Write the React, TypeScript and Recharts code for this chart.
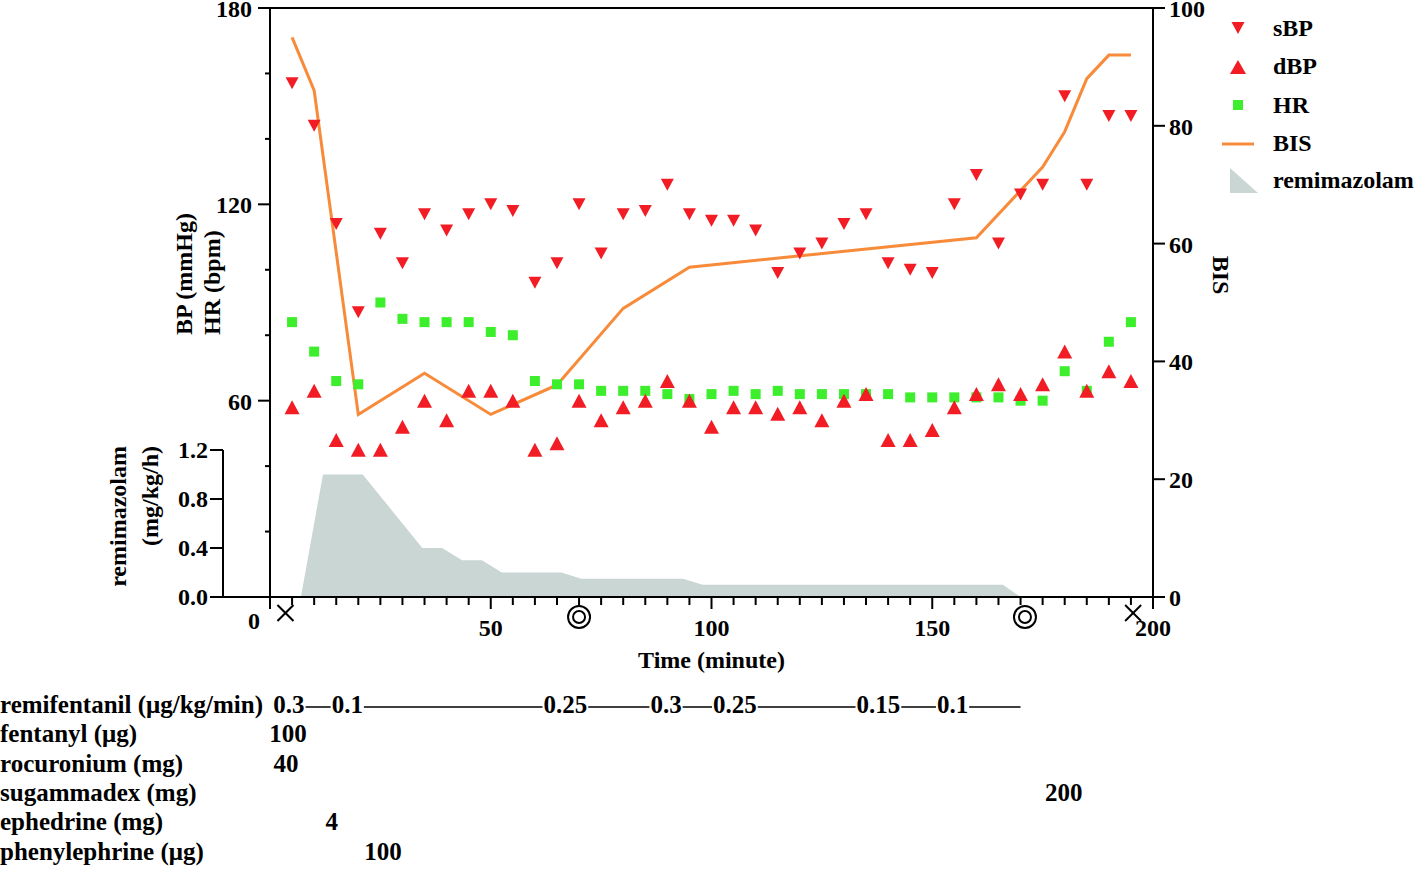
import { ComposedChart, Scatter, Line, Area, XAxis, YAxis, ReferenceLine, ReferenceDot } from "recharts";

const FONT = "'Liberation Serif', 'Times New Roman', serif";
const RED = "#F21C24";
const GREEN = "#3CEE2B";
const ORANGE = "#F78B3A";
const AREA = "#C9D6D3";
const INK = "#000";

const W = 1418;
const H = 869;
const PLOT_LEFT = 270;
const PLOT_RIGHT = 1153;
const PLOT_TOP = 8;
const PLOT_BOTTOM = 597;
const REMI_TOP = 450;
const REMI_AXIS_X = 223;
const TABLE_FONT = 25;

// vitals every 5 minutes
const sampleMinutes = [5, 10, 15, 20, 25, 30, 35, 40, 45, 50, 55, 60, 65, 70, 75, 80, 85, 90, 95, 100, 105, 110, 115, 120, 125, 130, 135, 140, 145, 150, 155, 160, 165, 170, 175, 180, 185, 190, 195];
const sbp = [157, 144, 114, 87, 111, 102, 117, 112, 117, 120, 118, 96, 102, 120, 105, 117, 118, 126, 117, 115, 115, 112, 99, 105, 108, 114, 117, 102, 100, 99, 120, 129, 108, 123, 126, 153, 126, 147, 147];
const dbp = [58, 63, 48, 45, 45, 52, 60, 54, 63, 63, 60, 45, 47, 60, 54, 58, 60, 66, 60, 52, 58, 58, 56, 58, 54, 60, 62, 48, 48, 51, 58, 62, 65, 62, 65, 75, 63, 69, 66];
const hr = [84, 75, 66, 65, 90, 85, 84, 84, 84, 81, 80, 66, 65, 65, 63, 63, 63, 62, 60.5, 62, 63, 62, 63, 62, 62, 62, 62, 62, 61, 61, 61, 61, 61, 60, 60, 69, 63, 78, 84];

const bisMinutes = [5, 10, 20, 35, 50, 65, 80, 95, 160, 175, 180, 185, 190, 195];
const bisValues = [95, 86, 31, 38, 31, 36, 49, 56, 61, 73, 79, 88, 92, 92];

const remiMinutes = [7, 12, 21, 34.5, 39, 43.5, 48, 52.5, 66, 70.5, 93.5, 98, 166, 170];
const remiRates = [0, 1.0, 1.0, 0.4, 0.4, 0.3, 0.3, 0.2, 0.2, 0.15, 0.15, 0.1, 0.1, 0];

// x = start/end of anaesthesia, o = intubation/extubation
const eventMinutes = [3.5, 70, 171, 195.5];
const eventKinds = ["x", "o", "o", "x"];

const minuteTicks = Array.from({ length: 41 }, (_, i) => i * 5);
const bpTicks = [20, 40, 60, 80, 100, 120, 140, 160, 180];
const bisTicks = [0, 20, 40, 60, 80, 100];
const remiTicks = [0, 0.4, 0.8, 1.2];

const drugNames = ["remifentanil (μg/kg/min)", "fentanyl (μg)", "rocuronium (mg)", "sugammadex (mg)", "ephedrine (mg)", "phenylephrine (μg)"];
const remifentanilMinutes = [4.3, 17.5, 66.9, 89.7, 105.3, 137.8, 154.6];
const remifentanilRates = ["0.3", "0.1", "0.25", "0.3", "0.25", "0.15", "0.1"];
const remifentanilStop = 170;
const bolusRow = [1, 2, 3, 4, 5];
const bolusMinutes = [4.1, 3.6, 179.8, 14, 25.6];
const bolusDoses = ["100", "40", "200", "4", "100"];

const zip = (ts: number[], vs: number[]) => ts.map((t, i) => ({ t, v: vs[i] }));
const sbpRows = zip(sampleMinutes, sbp);
const dbpRows = zip(sampleMinutes, dbp);
const hrRows = zip(sampleMinutes, hr);
const bisRows = zip(bisMinutes, bisValues);
const remiRows = zip(remiMinutes, remiRates);

const xOf = (t: number) => PLOT_LEFT + (t / 200) * (PLOT_RIGHT - PLOT_LEFT);
const txt = { fontFamily: FONT, fontWeight: "bold" as const, fontSize: 24, fill: INK };
const tableTxt = { ...txt, fontSize: TABLE_FONT };
const textWidth = (s: string) => s.split("").reduce((w, c) => w + (c === "." ? 0.25 : 0.5), 0) * TABLE_FONT;

function center(p: any) {
  const cx = p.cx ?? p.x + (p.width || 0) / 2;
  const cy = p.cy ?? p.y + (p.height || 0) / 2;
  return { cx, cy };
}

function DownTri(p: any) {
  const { cx, cy } = center(p);
  return <polygon points={`${cx - 6.5},${cy - 6} ${cx + 6.5},${cy - 6} ${cx},${cy + 6}`} fill={RED} />;
}

function UpTri(p: any) {
  const { cx, cy } = center(p);
  return <polygon points={`${cx - 7.5},${cy + 7} ${cx + 7.5},${cy + 7} ${cx},${cy - 7}`} fill={RED} />;
}

function Square(p: any) {
  const { cx, cy } = center(p);
  return <rect x={cx - 5} y={cy - 5} width={10} height={10} fill={GREEN} />;
}

function EventMark(kind: string) {
  return (p: any) => {
    const { cx, cy } = p;
    if (kind === "x") {
      const y = cy + 16;
      return (
        <g stroke={INK} strokeWidth={2}>
          <line x1={cx - 8} y1={y - 8} x2={cx + 8} y2={y + 8} />
          <line x1={cx - 8} y1={y + 8} x2={cx + 8} y2={y - 8} />
        </g>
      );
    }
    const y = cy + 20;
    return (
      <g stroke={INK} strokeWidth={2} fill="none">
        <circle cx={cx} cy={y} r={11} />
        <circle cx={cx} cy={y} r={6} />
      </g>
    );
  };
}

function MinuteTick(p: any) {
  const { x, y, payload } = p;
  const v = payload.value;
  const major = v % 50 === 0;
  return (
    <g>
      <line x1={x} x2={x} y1={y} y2={y + (major ? 12 : 8)} stroke={INK} strokeWidth={2} />
      {major && (
        <text x={v === 0 ? x - 16 : x} y={y + (v === 0 ? 32 : 39)} textAnchor="middle" {...txt}>
          {v}
        </text>
      )}
    </g>
  );
}

function BpTick(p: any) {
  const { x, y, payload } = p;
  const v = payload.value;
  const major = v % 60 === 0;
  return (
    <g>
      <line x1={x - (major ? 12 : 5)} x2={x} y1={y} y2={y} stroke={INK} strokeWidth={2} />
      {major && (
        <text x={x - 18} y={y + 9} textAnchor="end" {...txt}>
          {v}
        </text>
      )}
    </g>
  );
}

function BisTick(p: any) {
  const { x, y, payload } = p;
  return (
    <g>
      <line x1={x} x2={x + 12} y1={y} y2={y} stroke={INK} strokeWidth={2} />
      <text x={x + 16} y={y + 9} textAnchor="start" {...txt}>
        {payload.value}
      </text>
    </g>
  );
}

function RemiTick(p: any) {
  const { x, y, payload } = p;
  return (
    <g>
      <line x1={x - 13} x2={x} y1={y} y2={y} stroke={INK} strokeWidth={2} />
      <text x={x - 15} y={y + 8} textAnchor="end" {...txt}>
        {payload.value.toFixed(1)}
      </text>
    </g>
  );
}

function Overlay() {
  const rowY = (i: number) => 713 + i * 29.3;
  const segs = remifentanilMinutes.map((t, i) => {
    const x1 = xOf(t) + textWidth(remifentanilRates[i]) / 2 + 1;
    const x2 = i < remifentanilMinutes.length - 1
      ? xOf(remifentanilMinutes[i + 1]) - textWidth(remifentanilRates[i + 1]) / 2 - 1
      : xOf(remifentanilStop);
    return { x1, x2 };
  });
  return (
    <svg width={W} height={H} style={{ position: "absolute", left: 0, top: 0, pointerEvents: "none" }}>
      {/* axis titles */}
      <text transform="rotate(-90 184 335)" x={184} y={335} textAnchor="start" dominantBaseline="central" {...txt}>BP (mmHg)</text>
      <text transform="rotate(-90 212 335)" x={212} y={335} textAnchor="start" dominantBaseline="central" {...txt}>HR (bpm)</text>
      <text transform="rotate(-90 118 446)" x={118} y={446} textAnchor="end" dominantBaseline="central" {...txt}>remimazolam</text>
      <text transform="rotate(-90 150 446)" x={150} y={446} textAnchor="end" dominantBaseline="central" {...txt}>(mg/kg/h)</text>
      <text transform="rotate(90 1221 275)" x={1221} y={275} textAnchor="middle" dominantBaseline="central" {...txt}>BIS</text>
      <text x={(PLOT_LEFT + PLOT_RIGHT) / 2} y={668} textAnchor="middle" {...txt}>Time (minute)</text>

      {/* legend */}
      <polygon points="1231.5,22 1244.5,22 1238,34" fill={RED} />
      <text x={1273} y={36} {...txt}>sBP</text>
      <polygon points="1230,74 1246,74 1238,60" fill={RED} />
      <text x={1273} y={74} {...txt}>dBP</text>
      <rect x={1233} y={100} width={10} height={10} fill={GREEN} />
      <text x={1273} y={113} {...txt}>HR</text>
      <line x1={1222} x2={1254} y1={144} y2={144} stroke={ORANGE} strokeWidth={3} />
      <text x={1273} y={151} {...txt}>BIS</text>
      <polygon points="1230,168 1230,193 1258,193" fill={AREA} />
      <text x={1273} y={188} {...txt}>remimazolam</text>

      {/* drug table */}
      {drugNames.map((n, i) => (
        <text key={n} x={0} y={rowY(i)} {...tableTxt}>{n}</text>
      ))}
      {remifentanilMinutes.map((t, i) => (
        <text key={"r" + i} x={xOf(t)} y={rowY(0)} textAnchor="middle" {...tableTxt}>{remifentanilRates[i]}</text>
      ))}
      {segs.map((s, i) => (
        <line key={"s" + i} x1={s.x1} x2={s.x2} y1={rowY(0) - 6} y2={rowY(0) - 6} stroke={INK} strokeWidth={1.5} />
      ))}
      {bolusMinutes.map((t, i) => (
        <text key={"b" + i} x={xOf(t)} y={rowY(bolusRow[i])} textAnchor="middle" {...tableTxt}>{bolusDoses[i]}</text>
      ))}
    </svg>
  );
}

export default function App() {
  const axisLine = { stroke: INK, strokeWidth: 2 };
  return (
    <div style={{ position: "absolute", left: 0, top: 0, width: W, height: H, background: "#fff" }}>
      {/* lower panel: remimazolam infusion */}
      <div style={{ position: "absolute", left: 0, top: 0 }}>
        <ComposedChart
          width={W}
          height={H}
          data={remiRows}
          margin={{ top: REMI_TOP, right: W - PLOT_RIGHT, bottom: H - PLOT_BOTTOM - 20, left: REMI_AXIS_X - 125 }}
        >
          <XAxis
            dataKey="t"
            type="number"
            domain={[0, 200]}
            padding={{ left: PLOT_LEFT - REMI_AXIS_X, right: 0 }}
            height={20}
            tick={false}
            tickLine={false}
            axisLine={axisLine}
          />
          <YAxis
            yAxisId="remi"
            width={125}
            domain={[0, 1.2]}
            ticks={remiTicks}
            interval={0}
            tickSize={0}
            tickMargin={0}
            tickLine={false}
            tick={RemiTick}
            axisLine={axisLine}
          />
          <Area yAxisId="remi" type="linear" dataKey="v" stroke="none" fill={AREA} fillOpacity={1} isAnimationActive={false} />
        </ComposedChart>
      </div>

      {/* upper panel: BP, HR, BIS */}
      <div style={{ position: "absolute", left: 0, top: 0 }}>
        <ComposedChart
          width={W}
          height={H}
          margin={{ top: PLOT_TOP, right: W - PLOT_RIGHT - 90, bottom: H - PLOT_BOTTOM - 80, left: PLOT_LEFT - 140 }}
        >
          <XAxis
            dataKey="t"
            type="number"
            domain={[0, 200]}
            ticks={minuteTicks}
            interval={0}
            height={80}
            tickSize={0}
            tickMargin={0}
            tickLine={false}
            tick={MinuteTick}
            axisLine={axisLine}
          />
          <YAxis
            yAxisId="bp"
            width={140}
            domain={[0, 180]}
            ticks={bpTicks}
            interval={0}
            tickSize={0}
            tickMargin={0}
            tickLine={false}
            tick={BpTick}
            axisLine={axisLine}
          />
          <YAxis
            yAxisId="bis"
            orientation="right"
            width={90}
            domain={[0, 100]}
            ticks={bisTicks}
            interval={0}
            tickSize={0}
            tickMargin={0}
            tickLine={false}
            tick={BisTick}
            axisLine={axisLine}
          />
          <ReferenceLine yAxisId="bp" y={180} stroke={INK} strokeWidth={2} />
          <Line yAxisId="bis" data={bisRows} dataKey="v" type="linear" stroke={ORANGE} strokeWidth={3} dot={false} isAnimationActive={false} />
          <Scatter yAxisId="bp" data={hrRows} dataKey="v" shape={Square} isAnimationActive={false} />
          <Scatter yAxisId="bp" data={dbpRows} dataKey="v" shape={UpTri} isAnimationActive={false} />
          <Scatter yAxisId="bp" data={sbpRows} dataKey="v" shape={DownTri} isAnimationActive={false} />
          {eventMinutes.map((t, i) => (
            <ReferenceDot key={i} yAxisId="bp" x={t} y={0} ifOverflow="visible" shape={EventMark(eventKinds[i])} />
          ))}
        </ComposedChart>
      </div>

      <Overlay />
    </div>
  );
}
